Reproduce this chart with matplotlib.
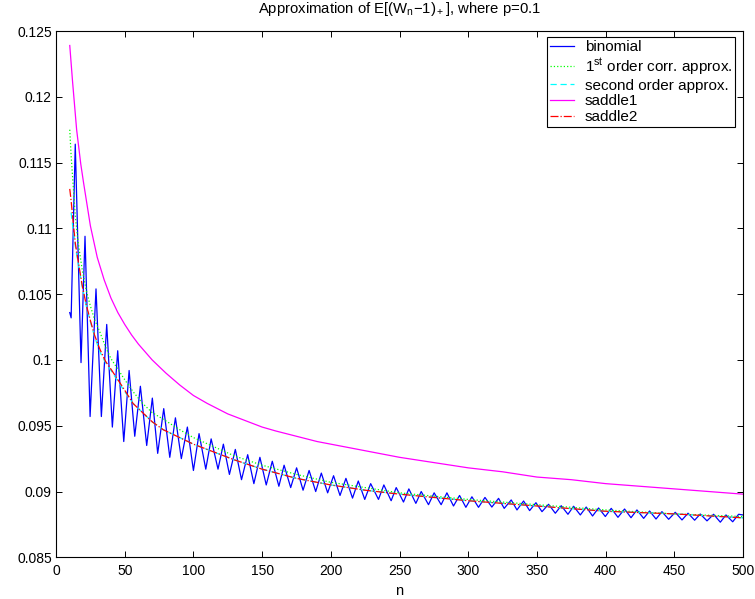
import numpy as np
import matplotlib.pyplot as plt

plt.rcParams['font.family'] = ['Liberation Sans', 'DejaVu Sans']
plt.rcParams['mathtext.fontset'] = 'custom'
plt.rcParams['mathtext.rm'] = 'Liberation Sans'
plt.rcParams['mathtext.it'] = 'Liberation Sans:italic'
plt.rcParams['mathtext.bf'] = 'Liberation Sans:bold'

# binomial: alternating troughs / peaks
binom_n = [10, 11, 14, 18.2, 21.1, 24.8, 29.1, 33, 36.9, 41, 44.9, 49.3, 53.2, 57.3,
           61.4, 66, 70.1, 74, 78.4, 82.8, 86.9, 91.2, 95.6, 100, 104.1, 109, 112.9,
           117.9, 121.8, 126.2, 130.5, 135, 139.5, 144, 148.4, 153, 157.4, 162.2, 166,
           170.8, 175.1, 179.8, 184.2, 189, 193.1, 197.7, 202, 206.7, 211, 215.8, 220,
           224.7, 229, 234.7, 238.6, 243.9, 247.6, 252.9, 256.8, 261.9, 265.8, 271.1,
           275.2, 280.3, 284.5, 289.3, 293.7, 298.3, 302.7, 307.5, 312.2, 317.2, 322.1,
           326.2, 331.3, 335.5, 340.3, 344.7, 349.3, 353.7, 358.5, 363.4, 367.7, 372.6,
           376.7, 381.6, 385.9, 390.5, 394.9, 399.8, 404.1, 409, 413.8, 418.5, 422.8,
           427.7, 432, 436.7, 441, 445.9, 450.7, 455.6, 460, 464.8, 468.9, 473.8, 478.6,
           483.5, 487.6, 492.5, 496.8, 500]
binom_y = [0.1036, 0.1032, 0.1164, 0.0998, 0.1094, 0.0957, 0.1054, 0.0957, 0.1027, 0.0949,
           0.1007, 0.0938, 0.0992, 0.0942, 0.0980, 0.0935, 0.0971, 0.0929, 0.0963, 0.0926,
           0.0956, 0.0925, 0.0949, 0.0916, 0.0944, 0.0917, 0.0940, 0.0917, 0.0936, 0.0913,
           0.0932, 0.0909, 0.0928, 0.0906, 0.0926, 0.0905, 0.0923, 0.0904, 0.0920, 0.0903,
           0.0918, 0.0901, 0.0916, 0.0900, 0.0914, 0.0899, 0.0912, 0.0897, 0.0910, 0.0895,
           0.0908, 0.0894, 0.0906, 0.0894, 0.0905, 0.0893, 0.0903, 0.0892, 0.0902, 0.0891,
           0.0900, 0.0890, 0.0899, 0.0890, 0.0899, 0.0889, 0.0897, 0.0888, 0.0896, 0.0888,
           0.08955, 0.08882, 0.08948, 0.08872, 0.08936, 0.08860, 0.08928, 0.08855, 0.08915,
           0.08847, 0.08903, 0.08835, 0.08892, 0.08827, 0.08888, 0.08822, 0.08882, 0.08814,
           0.08875, 0.08810, 0.08872, 0.08804, 0.08867, 0.08801, 0.08860, 0.08796, 0.08852,
           0.08791, 0.08847, 0.08789, 0.08842, 0.08784, 0.08835, 0.08782, 0.08829, 0.08777,
           0.08827, 0.08767, 0.08822, 0.08770, 0.08827, 0.08822]

first_n = [10, 11, 12, 14, 16, 19, 22, 25, 28, 32, 36, 40, 45, 50, 56, 63, 70, 78, 90,
           100, 115, 130, 150, 175, 200, 250, 300, 350, 400, 450, 500]
first_y = [0.1175, 0.1155, 0.1140, 0.1110, 0.1090, 0.1069, 0.1053, 0.1041, 0.1031, 0.1021,
           0.1010, 0.1001, 0.0993, 0.0985, 0.0976, 0.0967, 0.0960, 0.0955, 0.0947, 0.0941,
           0.0934, 0.0927, 0.0920, 0.0913, 0.0907, 0.0899, 0.0894, 0.0890, 0.0886, 0.0883,
           0.0881]

second_n = [11, 12, 14, 16, 19, 22, 25, 28, 32, 36, 40, 45, 50, 56, 63, 70, 78, 90, 100,
            115, 130, 150, 175, 200, 225, 250, 300, 350, 400, 450, 500]
second_y = [0.1112, 0.1103, 0.1087, 0.1074, 0.1056, 0.1041, 0.1029, 0.1018, 0.1006, 0.0998,
            0.0992, 0.0984, 0.0976, 0.0967, 0.0960, 0.0953, 0.0947, 0.0941, 0.0936, 0.0930,
            0.0924, 0.0917, 0.0910, 0.0905, 0.0901, 0.0898, 0.0893, 0.0889, 0.0885, 0.0883,
            0.0880]

saddle1_n = [10, 12, 15, 18, 20, 25, 30, 35, 40, 45, 50, 55, 60, 70, 80, 90, 100, 110, 125,
             140, 150, 160, 175, 190, 200, 225, 250, 275, 300, 325, 350, 375, 400, 425,
             450, 475, 500]
saddle1_y = [0.1239, 0.1212, 0.1175, 0.1149, 0.1135, 0.1102, 0.1078, 0.1061, 0.1047, 0.1036,
             0.1027, 0.1019, 0.1012, 0.1000, 0.0990, 0.0981, 0.0973, 0.0967, 0.0959, 0.0953,
             0.0949, 0.0946, 0.0942, 0.0938, 0.0936, 0.0931, 0.0926, 0.0922, 0.0918, 0.0915,
             0.0911, 0.0909, 0.0906, 0.0904, 0.0902, 0.0900, 0.0898]

saddle2_n = [10, 11, 12, 14, 16, 19, 22, 25, 28, 32, 36, 40, 45, 50, 56, 63, 70, 78, 90,
             100, 115, 130, 150, 175, 200, 225, 250, 300, 350, 400, 450, 500]
saddle2_y = [0.1130, 0.1121, 0.1110, 0.1089, 0.1076, 0.1057, 0.1042, 0.1030, 0.1019, 0.1008,
             0.0999, 0.0993, 0.0985, 0.0977, 0.0967, 0.0960, 0.0953, 0.0947, 0.0941, 0.0936,
             0.0930, 0.0924, 0.0917, 0.0910, 0.0905, 0.0901, 0.0898, 0.0893, 0.0889, 0.0885,
             0.0883, 0.0880]

xticks = [0, 50, 100, 150, 200, 250, 300, 350, 400, 450, 500]
yticks = [0.085, 0.09, 0.095, 0.1, 0.105, 0.11, 0.115, 0.12, 0.125]
ytick_labels = ['0.085', '0.09', '0.095', '0.1', '0.105', '0.11', '0.115', '0.12', '0.125']

fig = plt.figure(figsize=(7.55, 5.99), dpi=100)
ax = fig.add_axes([0.0742, 0.0696, 0.9099, 0.8786])

ax.plot(binom_n, binom_y, '-', color='#0000ff', lw=0.9, label='binomial')
ax.plot(first_n, first_y, ':', color='#00ff00', lw=0.9, label='1$^{\\rm st}$ order corr. approx.')
ax.plot(second_n, second_y, '--', color='#00ffff', lw=0.9, dashes=(5, 3),
        label='second order approx.')
ax.plot(saddle1_n, saddle1_y, '-', color='#ff00ff', lw=0.9, label='saddle1')
ax.plot(saddle2_n, saddle2_y, '-.', color='#ff0000', lw=0.9, label='saddle2')

ax.set_xlim(0, 500)
ax.set_ylim(0.085, 0.125)
ax.set_xticks(xticks)
ax.set_xticklabels([str(t) for t in xticks])
ax.set_yticks(yticks)
ax.set_yticklabels(ytick_labels)
ax.tick_params(direction='in', length=4, width=0.7, top=True, right=True,
               labelsize=10)
ax.tick_params(axis='x', pad=5)
ax.tick_params(axis='y', pad=3)
for s in ax.spines.values():
    s.set_linewidth(0.8)

ax.set_xlabel('n', fontsize=10.5, labelpad=4)
ax.set_title('Approximation of E[(W$_\\mathrm{n}$$-$1)$_+$], where p=0.1',
             fontsize=10.7, pad=13)

leg = ax.legend(loc='upper right', bbox_to_anchor=(0.989, 0.988), fontsize=11,
                fancybox=False, framealpha=1, edgecolor='black', handlelength=1.6,
                labelspacing=0.12, borderpad=0.2, handletextpad=0.7, borderaxespad=0)
leg.get_frame().set_linewidth(0.8)

fig.savefig('out.png', dpi=100)
